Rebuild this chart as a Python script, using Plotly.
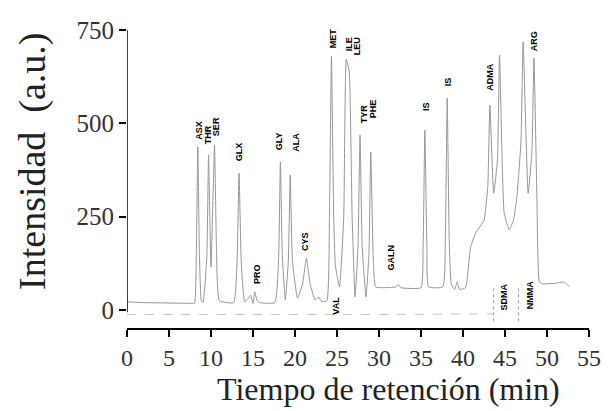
import plotly.graph_objects as go

# Chromatogram trace: retention time (min) and intensity (a.u.) at each vertex
time_min = [0.0, 2.0, 7.8, 8.05, 8.25, 8.43, 8.62, 8.85, 9.05, 9.5, 9.71, 10.0, 10.42,
            10.65, 11.0, 12.7, 13.1, 13.34, 13.6, 14.0, 14.4, 14.7, 15.0, 15.2, 15.5,
            15.8, 17.6, 18.05, 18.26, 18.5, 18.85, 19.2, 19.43, 19.7, 20.3, 20.9,
            21.35, 21.8, 22.4, 22.8, 23.2, 23.8, 24.1, 24.34, 24.6, 24.8, 25.3,
            25.8, 26.1, 26.45, 26.8, 27.15, 27.5, 27.74, 28.0, 28.45, 28.8, 29.02,
            29.3, 29.6, 30.5, 32.0, 32.3, 32.6, 35.0, 35.25, 35.46, 35.7, 35.9,
            37.6, 37.9, 38.12, 38.35, 38.6, 39.0, 39.3, 39.6, 40.3, 40.9, 41.5,
            42.5, 42.95, 43.2, 43.65, 44.1, 44.35, 44.9, 45.5, 46.0, 46.4, 46.9,
            47.16, 47.75, 48.2, 48.45, 48.8, 49.1, 49.5, 51.0, 52.0, 52.7]
intensity = [22, 20, 18, 18, 150, 437, 150, 25, 20, 140, 415, 115, 442,
             170, 25, 20, 130, 367, 130, 22, 30, 40, 18, 49, 25,
             20, 20, 140, 397, 140, 27, 130, 362, 130, 32, 70,
             139, 70, 27, 35, 22, 25, 250, 680, 260, 120, 62,
             250, 672, 640, 250, 35, 170, 469, 170, 35, 150, 423,
             150, 62, 60, 62, 68, 60, 60, 170, 482, 170, 62,
             62, 200, 568, 200, 70, 55, 75, 55, 60, 168, 206,
             241, 330, 549, 313, 400, 683, 260, 215, 240, 300, 450,
             718, 313, 420, 675, 300, 75, 70, 72, 75, 62]

# Reference trace drawn underneath
ref_time = [0.0, 10.0, 20.0, 30.0, 43.6]
ref_intensity = [-12, -12, -13, -12, -10]

# Methylated arginine markers
marker_time = [43.65, 46.6]

# Peak labels
peak_names = ["ASX", "THR", "SER", "GLX", "PRO", "GLY", "ALA", "CYS", "VAL",
              "MET", "ILE", "LEU", "TYR", "PHE", "GALN", "IS", "IS",
              "ADMA", "SDMA", "NMMA", "ARG"]
peak_time = [8.54, 9.62, 10.6, 13.34, 15.56, 18.14, 20.13, 21.18, 24.93,
             24.46, 26.45, 27.39, 28.2, 29.37, 31.48, 35.58, 38.15,
             43.18, 44.94, 47.98, 48.45]
peak_label_y = [482, 470, 490, 423, 96, 453, 448, 185, 13,
                729, 712, 707, 527, 540, 142, 546, 611,
                624, 35, 40, 720]

x_ticks = list(range(0, 56, 5))
y_ticks = [0, 250, 500, 750]

fig = go.Figure()

fig.add_trace(go.Scatter(x=ref_time, y=ref_intensity, mode="lines",
                         line=dict(color="#c4c4c4", width=1, dash="dash"),
                         hoverinfo="skip", showlegend=False))
fig.add_trace(go.Scatter(x=time_min, y=intensity, mode="lines",
                         line=dict(color="#969696", width=1, shape="spline",
                                   smoothing=0.4),
                         showlegend=False))

for t in marker_time:
    fig.add_shape(type="line", x0=t, x1=t, y0=-30, y1=60,
                  line=dict(color="#9a9a9a", width=1, dash="dot"))

# Detached y axis line
fig.add_shape(type="line", xref="x", yref="y", x0=0, x1=0, y0=-6, y1=754,
              line=dict(color="black", width=1.5))

for name, t, yv in zip(peak_names, peak_time, peak_label_y):
    fig.add_annotation(x=t, y=yv, text=name, textangle=-90, showarrow=False,
                       xanchor="center", yanchor="middle",
                       font=dict(family="Liberation Sans", size=9, color="black",
                                 weight="bold"))

serif = "Liberation Serif"
fig.add_annotation(xref="paper", yref="paper", x=-0.206, y=0.56,
                   text="Intensidad  (a.u.)", textangle=-90, showarrow=False,
                   xanchor="center", yanchor="middle",
                   font=dict(family=serif, size=38, color="#222222"))
fig.add_annotation(xref="paper", yref="paper", x=0.566, y=-0.205,
                   text="Tiempo de retención (min)", showarrow=False,
                   xanchor="center", yanchor="middle",
                   font=dict(family=serif, size=32, color="#222222"))

fig.update_layout(
    width=613, height=411,
    margin=dict(l=127, r=16, t=30, b=83),
    plot_bgcolor="white", paper_bgcolor="white",
    xaxis=dict(range=[0, 55], tickvals=x_ticks, showgrid=False, zeroline=False,
               showline=True, linecolor="black", linewidth=1.5,
               ticks="outside", ticklen=7, tickwidth=1.5, tickcolor="black",
               tickfont=dict(family=serif, size=24, color="#333333")),
    yaxis=dict(range=[-48, 750], tickvals=y_ticks, showgrid=False, zeroline=False,
               showline=False, ticks="outside", ticklen=7, tickwidth=1.5,
               tickcolor="black",
               tickfont=dict(family=serif, size=25, color="#333333")),
)

fig.write_html("out.html")
